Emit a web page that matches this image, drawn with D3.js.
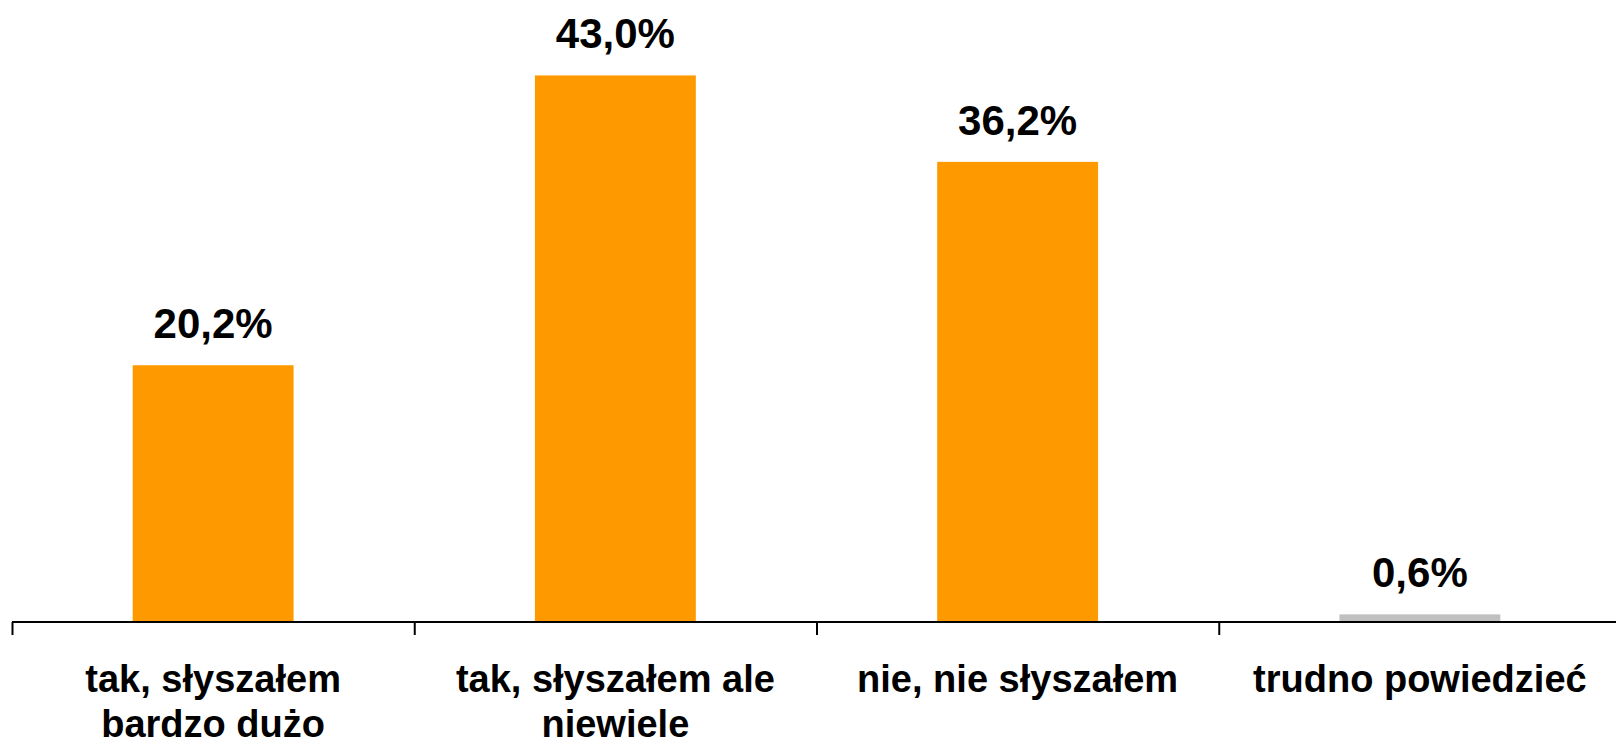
<!DOCTYPE html>
<html>
<head>
<meta charset="utf-8">
<script src="https://cdn.jsdelivr.net/npm/d3@7"></script>
<style>
  body { margin: 0; background: #fff; }
  svg { display: block; }
  text { font-family: "Liberation Sans", Arial, sans-serif; font-weight: bold; fill: #000; }
</style>
</head>
<body>
<svg id="chart"></svg>
<script>
// data
var categories = [
    ["tak, słyszałem", "bardzo dużo"],
    ["tak, słyszałem ale", "niewiele"],
    ["nie, nie słyszałem"],
    ["trudno powiedzieć"]
]
var values = [20.2, 43.0, 36.2, 0.6]
var labels = ["20,2%", "43,0%", "36,2%", "0,6%"]
var barColors = ["#ff9900", "#ff9900", "#ff9900", "#c0c0c0"]

var width = 1616
var height = 744
var baseY = 622

var svg = d3.select("#chart")
    .attr("width", width)
    .attr("height", height)

var x = d3.scaleBand()
    .domain(d3.range(values.length))
    .range([12, 1621])
    .paddingInner(0.6)
    .paddingOuter(0.3)

var y = d3.scaleLinear()
    .domain([0, 45])
    .range([baseY, 50])

// bars
svg.selectAll("rect.bar")
    .data(values)
    .enter()
    .append("rect")
    .attr("class", "bar")
    .attr("x", function(d, i) { return x(i) })
    .attr("y", function(d) { return y(d) })
    .attr("width", x.bandwidth())
    .attr("height", function(d) { return y(0) - y(d) })
    .attr("fill", function(d, i) { return barColors[i] })

// value labels
svg.selectAll("text.val")
    .data(values)
    .enter()
    .append("text")
    .attr("class", "val")
    .attr("x", function(d, i) { return x(i) + x.bandwidth() / 2 })
    .attr("y", function(d) { return y(d) - 27 })
    .attr("text-anchor", "middle")
    .style("font-size", "42px")
    .text(function(d, i) { return labels[i] })

// category axis, ticks between categories
var edges = d3.scaleLinear()
    .domain([0, values.length])
    .range([12, 1621])

var xAxis = d3.axisBottom(edges)
    .tickValues(d3.range(values.length + 1))
    .tickSize(13)
    .tickFormat("")

var axisG = svg.append("g")
    .attr("class", "axis")
    .attr("transform", "translate(0," + baseY + ")")
    .call(xAxis)
axisG.select(".domain").attr("stroke", "#000").attr("stroke-width", 2).attr("d", "M12,0H1621")
axisG.selectAll(".tick line").attr("stroke", "#000").attr("stroke-width", 2)

// category labels
var cat = svg.selectAll("text.cat")
    .data(categories)
    .enter()
    .append("text")
    .attr("class", "cat")
    .attr("text-anchor", "middle")
    .style("font-size", "38px")

cat.selectAll("tspan")
    .data(function(d, i) { return d.map(function(s) { return {s: s, i: i} }) })
    .enter()
    .append("tspan")
    .attr("x", function(d) { return x(d.i) + x.bandwidth() / 2 })
    .attr("y", function(d, j) { return 692 + j * 45 })
    .text(function(d) { return d.s })
</script>
</body>
</html>
